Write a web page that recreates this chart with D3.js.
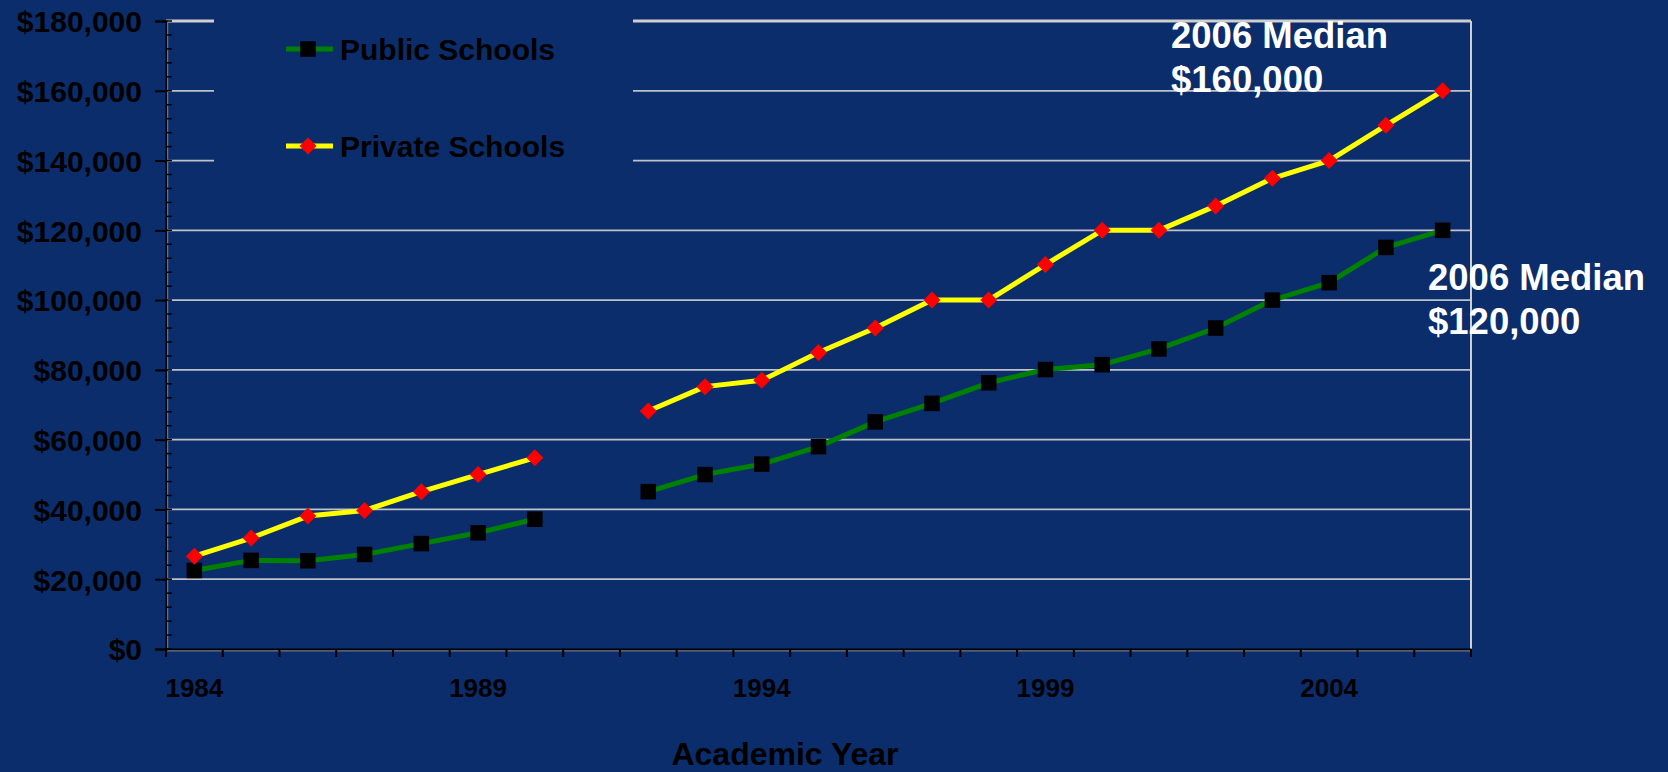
<!DOCTYPE html>
<html>
<head>
<meta charset="utf-8">
<script src="https://cdn.jsdelivr.net/npm/d3@7"></script>
<style>
  html, body { margin: 0; padding: 0; background: #0b2d6b; }
  svg { display: block; }
  text { font-family: "Liberation Sans", Arial, Helvetica, sans-serif; font-weight: bold; }
</style>
</head>
<body>
<svg id="chart" width="1668" height="772"></svg>
<script>
// ---- data ----
const years = [1984,1985,1986,1987,1988,1989,1990,1991,1992,1993,1994,1995,1996,1997,1998,1999,2000,2001,2002,2003,2004,2005,2006];
const publicSchools  = [22500,25400,25300,27100,30200,33300,37200,null,45100,50000,53000,58000,65100,70400,76300,80100,81500,86000,92000,100000,105000,115100,120000];
const privateSchools = [26600,31800,38100,39700,45100,50000,54800,null,68200,75200,77000,85000,92000,100000,100000,110200,120000,120000,127000,134900,140000,150100,160000];
const yTickValues = [0,20000,40000,60000,80000,100000,120000,140000,160000,180000];
const xTickLabels = [1984,1989,1994,1999,2004];
const seriesNames = ["Public Schools","Private Schools"];
const annotations = [
  {lines:["2006 Median","$160,000"]},
  {lines:["2006 Median","$120,000"]}
];

(function(){
// ---- layout ----
const bg = "#0b2d6b";
const svg = d3.select("#chart");
svg.append("rect").attr("width",1668).attr("height",772).attr("fill",bg);

const pLeft = 166, pRight = 1471, pTop = 21, pBottom = 649;
const x = d3.scaleBand().domain(years).range([pLeft, pRight]).padding(0);
const y = d3.scaleLinear().domain([0,180000]).range([pBottom, pTop]);
const cx = d => x(d) + x.bandwidth()/2;

// gridlines
svg.append("g").selectAll("line").data(yTickValues.filter(v => v>0 && v<180000)).join("line")
  .attr("x1", pLeft).attr("x2", pRight)
  .attr("y1", d => y(d)).attr("y2", d => y(d))
  .attr("stroke", "#bfc1c8").attr("stroke-width", 1.8);

// plot border (top and right)
svg.append("line").attr("x1", pLeft).attr("x2", pRight).attr("y1", pTop).attr("y2", pTop)
  .attr("stroke", "#cfcfcf").attr("stroke-width", 3);
svg.append("line").attr("x1", pRight).attr("x2", pRight).attr("y1", pTop).attr("y2", pBottom)
  .attr("stroke", "#cfcfcf").attr("stroke-width", 2);
svg.append("line").attr("x1", pLeft+1.5).attr("x2", pLeft+1.5).attr("y1", pTop).attr("y2", pBottom)
  .attr("stroke", "#e0e0e0").attr("stroke-width", 1.2);
svg.append("line").attr("x1", pLeft).attr("x2", pRight).attr("y1", pBottom+1.5).attr("y2", pBottom+1.5)
  .attr("stroke", "#bdbdbd").attr("stroke-width", 1.5);

// legend background box (covers gridlines)
svg.append("rect").attr("x", 214).attr("y", 8).attr("width", 419).attr("height", 180).attr("fill", bg);

// y axis
const yAxis = d3.axisLeft(y).tickValues(yTickValues).tickSize(11).tickPadding(0)
  .tickFormat(d => "$" + d3.format(",")(d));
const gy = svg.append("g").attr("transform", `translate(${pLeft},0)`).call(yAxis);
gy.select(".domain").attr("stroke", "#000").attr("stroke-width", 2);
gy.selectAll(".tick line").attr("stroke", "#000").attr("stroke-width", 2);
gy.selectAll(".tick text").attr("x", -24).attr("dy", "0.36em")
  .attr("fill", "#000").attr("font-size", 30).attr("font-family", null);
// minor ticks (inside)
svg.append("g").selectAll("line").data(d3.range(0, 180001, 4000)).join("line")
  .attr("x1", pLeft).attr("x2", pLeft+6)
  .attr("y1", d => y(d)).attr("y2", d => y(d))
  .attr("stroke", "#000").attr("stroke-width", 1.5);

// x axis
const xAxis = d3.axisBottom(x).tickValues(xTickLabels).tickSize(0).tickPadding(0);
const gx = svg.append("g").attr("transform", `translate(0,${pBottom})`).call(xAxis);
gx.select(".domain").attr("stroke", "#000").attr("stroke-width", 2);
gx.selectAll(".tick text").attr("y", 48).attr("dy", 0)
  .attr("fill", "#000").attr("font-size", 26).attr("font-family", null);
// x tick marks at band edges
svg.append("g").selectAll("line").data(years.concat([null])).join("line")
  .attr("x1", d => d===null ? pRight : x(d)).attr("x2", d => d===null ? pRight : x(d))
  .attr("y1", pBottom).attr("y2", pBottom+8)
  .attr("stroke", "#000").attr("stroke-width", 2);

// axis title
svg.append("text").attr("x", 785).attr("y", 765).attr("text-anchor", "middle")
  .attr("font-size", 32).attr("fill", "#000").text("Academic Year");

// lines
const line = d3.line().defined(d => d.v !== null).x(d => cx(d.year)).y(d => y(d.v));
const pubData = years.map((yr,i) => ({year: yr, v: publicSchools[i]}));
const privData = years.map((yr,i) => ({year: yr, v: privateSchools[i]}));

svg.append("path").datum(pubData).attr("d", line).attr("fill","none")
  .attr("stroke", "#008000").attr("stroke-width", 5).attr("stroke-linejoin","round");
svg.append("path").datum(privData).attr("d", line).attr("fill","none")
  .attr("stroke", "#ffff00").attr("stroke-width", 5).attr("stroke-linejoin","round");

const sq = 15.5, dm = 8.5;
const diamond = (px,py) => `M${px},${py-dm}L${px+dm},${py}L${px},${py+dm}L${px-dm},${py}Z`;

svg.append("g").selectAll("rect").data(pubData.filter(d => d.v !== null)).join("rect")
  .attr("x", d => cx(d.year)-sq/2).attr("y", d => y(d.v)-sq/2)
  .attr("width", sq).attr("height", sq).attr("fill", "#000");
svg.append("g").selectAll("path").data(privData.filter(d => d.v !== null)).join("path")
  .attr("d", d => diamond(cx(d.year), y(d.v))).attr("fill", "#ff0000");

// legend
const legendItems = [
  {name: seriesNames[0], color: "#008000", marker: "square", yy: 49},
  {name: seriesNames[1], color: "#ffff00", marker: "diamond", yy: 146}
];
const lg = svg.append("g");
legendItems.forEach(it => {
  lg.append("line").attr("x1", 286).attr("x2", 333).attr("y1", it.yy).attr("y2", it.yy)
    .attr("stroke", it.color).attr("stroke-width", 5);
  if (it.marker === "square") {
    lg.append("rect").attr("x", 308-sq/2).attr("y", it.yy-sq/2).attr("width", sq).attr("height", sq).attr("fill","#000");
  } else {
    lg.append("path").attr("d", diamond(308, it.yy)).attr("fill","#ff0000");
  }
  lg.append("text").attr("x", 340).attr("y", it.yy + 11).attr("font-size", 30).attr("fill","#000").text(it.name);
});

// annotations
const annPos = [{x: 1171, y: 48}, {x: 1428, y: 290}];
annotations.forEach((a,i) => {
  const t = svg.append("text").attr("x", annPos[i].x).attr("y", annPos[i].y)
    .attr("font-size", 36.5).attr("fill", "#ffffff");
  a.lines.forEach((ln,j) => {
    t.append("tspan").attr("x", annPos[i].x).attr("dy", j === 0 ? 0 : 44).text(ln);
  });
});
})();
</script>
</body>
</html>
